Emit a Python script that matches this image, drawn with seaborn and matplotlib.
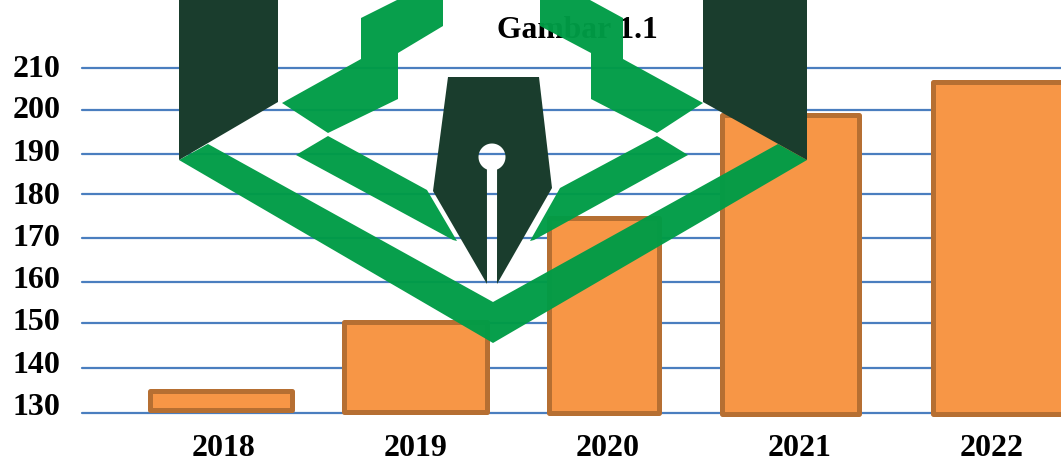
import numpy as np
import pandas as pd
import matplotlib
matplotlib.use("Agg")
import matplotlib.pyplot as plt
from matplotlib.patches import Polygon
from matplotlib.transforms import Affine2D
import seaborn as sns

# Chart data
years = ["2018", "2019", "2020", "2021", "2022"]
values = [134.8, 150.2, 174.5, 198.9, 206.8]
y_ticks = [130, 140, 150, 160, 170, 180, 190, 200, 210]
title = "Gambar 1.1"

# Bar extents relative to each category centre, in category units
bar_left = [-0.385, -0.377, -0.307, -0.404, -0.307]
bar_right = [0.354, 0.372, 0.266, 0.307, 0.430]
bar_base = [130.5, 130.1, 129.9, 129.7, 129.8]

W, H, DPI = 1061, 459, 100
FONT = "Liberation Serif"
AXIS_BOTTOM = 412.7

# The value axis is hand-spaced: row height of every gridline from the image top
grid_rows = [412.7, 368.3, 322.7, 282.0, 238.3, 194.0, 154.0, 110.0, 68.3]
label_shift = [8.7, 6.6, 3.7, 5.0, 3.3, 1.3, 4.0, 3.0, 2.6]

scale_vals = np.array([100.0] + y_ticks + [226.4, 400.0])
scale_pos = AXIS_BOTTOM - np.array([AXIS_BOTTOM + 132.0] + grid_rows + [0.0, -724.0])


def to_axis(v):
    return np.interp(v, scale_vals, scale_pos)


def from_axis(p):
    return np.interp(p, scale_pos, scale_vals)


sns.set_theme(style="white")
plt.rcParams["font.family"] = FONT

fig = plt.figure(figsize=(W / DPI, H / DPI), dpi=DPI, facecolor="white")
ax = fig.add_axes([82 / W, (H - AXIS_BOTTOM) / H, 1 - 82 / W, AXIS_BOTTOM / H])

df = pd.DataFrame({"year": years, "value": values})
sns.barplot(data=df, x="year", y="value", ax=ax, color="#F79646", saturation=1,
            edgecolor="#B66F32", linewidth=3.6, errorbar=None, zorder=2)

for i, (bar, val) in enumerate(zip(ax.patches, values)):
    bar.set_x(i + bar_left[i])
    bar.set_width(bar_right[i] - bar_left[i])
    bar.set_y(bar_base[i])
    bar.set_height(val - bar_base[i])
    bar.set_joinstyle("round")
    bar.set_clip_on(False)

ax.set_yscale("function", functions=(to_axis, from_axis))
ax.set_xlim(-0.7396, 4.3594)
ax.set_ylim(130, 226.4)
ax.set_yticks(y_ticks)
ax.minorticks_off()
ax.set_xlabel("")
ax.set_ylabel("")
ax.tick_params(axis="both", length=0, labelsize=23)
ax.tick_params(axis="y", pad=15.5)
ax.tick_params(axis="x", pad=15)
for lab in ax.get_xticklabels() + ax.get_yticklabels():
    lab.set_fontweight("bold")
    lab.set_color("black")
    lab.set_fontfamily(FONT)
for lab, shift in zip(ax.get_yticklabels(), label_shift):
    lab.set_transform(lab.get_transform() + Affine2D().translate(0, shift))

ax.set_axisbelow(True)
ax.yaxis.grid(True, color="#4A7EBF", linewidth=1.6)
ax.xaxis.grid(False)
for gl in ax.get_ygridlines():
    gl.set_clip_on(False)
sns.despine(ax=ax, left=True, bottom=True, top=True, right=True)

fig.text(577 / W, 1 - 30 / H, title, ha="center", va="center", fontsize=22.8,
         fontweight="bold", color="black", family=FONT, zorder=0.5)

# Emblem laid over the chart, outlined in image pixels from the top-left corner
px = Affine2D().scale(1, -1).translate(0, H)
GREEN = "#009C46"
DARK = "#1A3D2D"

hole = np.radians(np.linspace(68, -248, 60))
nib_arc = [(492 + 13.5 * np.cos(t), 157 + 13.5 * np.sin(t)) for t in hole]

emblem = [
    # outer chevron
    ([(179, 160), (208, 144), (493, 302), (778, 144), (807, 160), (493, 343)], GREEN, 0.97),
    # upper wings
    ([(282, 103), (361, 59), (361, 18), (397, 0), (443, 0), (443, 26),
      (398, 53), (398, 99), (328, 133)], GREEN, 0.97),
    ([(703, 103), (623, 59), (623, 18), (590, 0), (540, 0), (540, 26),
      (591, 53), (591, 99), (657, 133)], GREEN, 0.97),
    # lower wings
    ([(296, 155), (328, 136), (427, 190), (457, 241), (453, 240)], GREEN, 0.97),
    ([(688, 155), (657, 136), (560, 188), (530, 241), (534, 240)], GREEN, 0.97),
    # side blocks
    ([(179, 0), (278, 0), (278, 102), (179, 160)], DARK, 1.0),
    ([(703, 0), (807, 0), (807, 160), (703, 102)], DARK, 1.0),
    # pen nib with slit and breather hole
    ([(448, 77), (539, 77), (552, 188), (497, 284)] + nib_arc
     + [(487, 284), (433, 191)], DARK, 1.0),
]
for pts, colour, alpha in emblem:
    fig.add_artist(Polygon(pts, closed=True, transform=px, facecolor=colour,
                           edgecolor="none", alpha=alpha, zorder=5))

fig.savefig("out.png", dpi=DPI)
